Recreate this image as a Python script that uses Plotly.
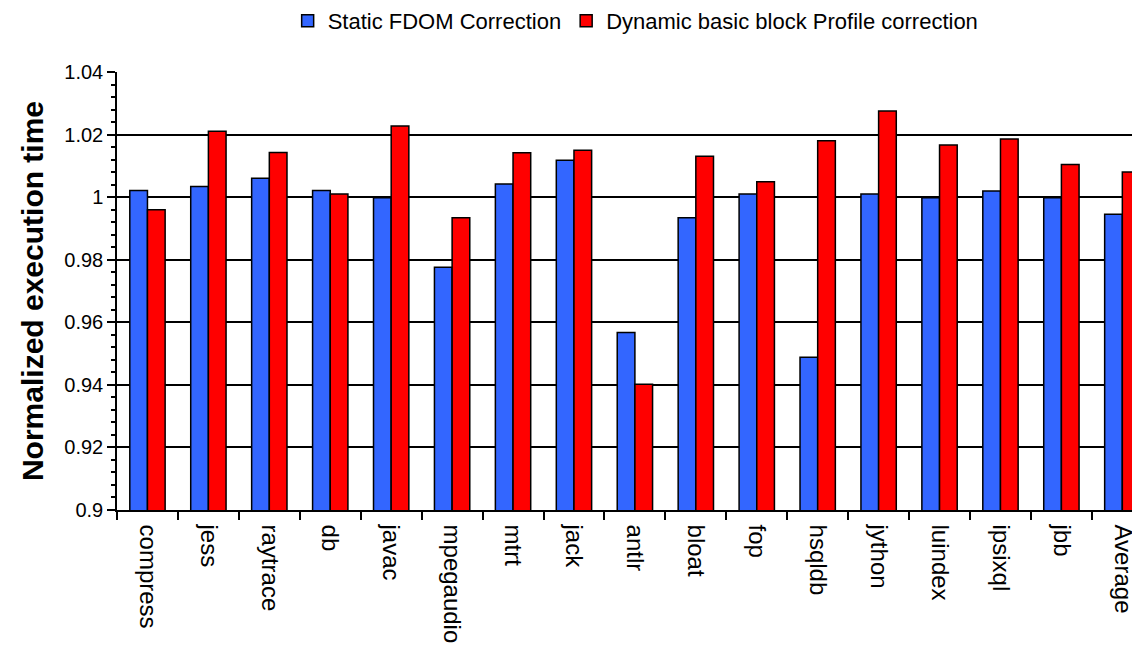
import plotly.graph_objects as go

categories = ["compress", "jess", "raytrace", "db", "javac", "mpegaudio", "mtrt", "jack",
              "antlr", "bloat", "fop", "hsqldb", "jython", "luindex", "ipsixql", "jbb", "Average"]
static_fdom = [1.0021, 1.0034, 1.0060, 1.0021, 0.9998, 0.9776, 1.0042, 1.0118,
               0.9567, 0.9934, 1.0010, 0.9488, 1.0010, 0.9998, 1.0020, 0.9998, 0.9945]
dynamic_bb = [0.9960, 1.0211, 1.0143, 1.0010, 1.0227, 0.9934, 1.0142, 1.0150,
              0.9402, 1.0131, 1.0049, 1.0180, 1.0275, 1.0167, 1.0186, 1.0104, 1.0080]
y_ticks = [0.9, 0.92, 0.94, 0.96, 0.98, 1.0, 1.02, 1.04]
y_tick_labels = ["0.9", "0.92", "0.94", "0.96", "0.98", "1", "1.02", "1.04"]

FONT = "Liberation Sans, Arial, sans-serif"

fig = go.Figure()
fig.add_trace(go.Bar(x=categories, y=static_fdom, name="Static FDOM Correction",
                     marker=dict(color="#3366FF", line=dict(color="black", width=1.5))))
fig.add_trace(go.Bar(x=categories, y=dynamic_bb, name="Dynamic basic block Profile correction",
                     marker=dict(color="#FF0000", line=dict(color="black", width=1.5))))

# page body has an 8px default margin, so the figure is sized to end at the window edge
fig.update_layout(
    width=1132, height=649,
    margin=dict(l=109, r=0, t=64, b=147, autoexpand=False),
    plot_bgcolor="white", paper_bgcolor="white",
    barmode="group", bargap=0.42, bargroupgap=0,
    font=dict(family=FONT, color="black", size=20),
    legend=dict(orientation="h", x=0.507, xanchor="center",
                yref="container", y=0.98, yanchor="middle",
                font=dict(size=22, family=FONT), itemwidth=30, traceorder="normal",
                tracegroupgap=0),
    showlegend=True,
)

fig.update_xaxes(
    type="category", range=[-0.5, 16.29], automargin=False,
    showline=True, linecolor="black", linewidth=1.5,
    ticks="outside", tickson="boundaries", ticklen=8, tickwidth=1.5, tickcolor="black",
    tickangle=90, tickfont=dict(size=24, family=FONT), ticklabelstandoff=8,
    showgrid=False,
)
fig.update_yaxes(
    range=[0.9, 1.04], tickvals=y_ticks, ticktext=y_tick_labels, automargin=False,
    showline=True, linecolor="black", linewidth=1.5,
    ticks="outside", ticklen=8, tickwidth=1.5, tickcolor="black",
    minor=dict(dtick=0.004, tick0=0.9, ticks="outside", ticklen=4, tickwidth=1.5,
               tickcolor="black", showgrid=False),
    showgrid=True, gridcolor="black", gridwidth=1.5,
    tickfont=dict(size=20, family=FONT),
    title=dict(text="<b>Normalized execution time</b>", font=dict(size=30, family=FONT), standoff=12),
    zeroline=False,
)

fig.write_html("out.html")
